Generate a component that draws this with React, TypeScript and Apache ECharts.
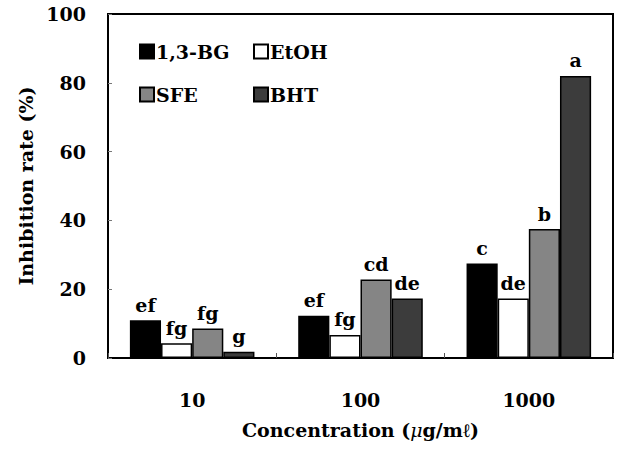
import React, { useEffect, useRef } from "react";
import * as echarts from "echarts";

const categories = ["10", "100", "1000"];
const seriesNames = ["1,3-BG", "EtOH", "SFE", "BHT"];
const bg = [11.0, 12.3, 27.5];
const etoh = [4.3, 6.7, 17.3];
const sfe = [8.6, 22.8, 37.5];
const bht = [1.8, 17.3, 82.0];
const bgLetters = ["ef", "ef", "c"];
const etohLetters = ["fg", "fg", "de"];
const sfeLetters = ["fg", "cd", "b"];
const bhtLetters = ["g", "de", "a"];
const yTicks = [0, 20, 40, 60, 80, 100];

const FONT = "DejaVu Serif";

export default function App() {
  const ref = useRef<HTMLDivElement>(null);
  useEffect(() => {
    if (!ref.current) return;
    const chart = echarts.init(ref.current, null, { renderer: "svg" });
    const txt = { fontFamily: FONT, fontWeight: "bold", fontSize: 19, color: "#000" };
    const mk = (name: string, data: number[], letters: string[], color: string) => ({
      name,
      type: "bar",
      data,
      barGap: "0%",
      barCategoryGap: "26%",
      itemStyle: { color, borderColor: "#000", borderWidth: 1.5 },
      label: {
        show: true,
        position: "top",
        distance: 6,
        formatter: (p: any) => letters[p.dataIndex],
        ...txt,
      },
    });
    const legendBase = {
      icon: "rect",
      itemWidth: 14,
      itemHeight: 14,
      itemGap: 4,
      textStyle: { ...txt, padding: [0, 0, 0, -3] },
      selectedMode: false,
    };
    chart.setOption({
      animation: false,
      backgroundColor: "#fff",
      textStyle: { fontFamily: FONT },
      grid: {
        left: 108,
        right: 5,
        top: 14,
        bottom: 101,
        show: true,
        borderColor: "#000",
        borderWidth: 2,
      },
      legend: [
        { ...legendBase, data: [seriesNames[0]], left: 134, top: 37 },
        { ...legendBase, data: [seriesNames[1]], left: 248, top: 37 },
        { ...legendBase, data: [seriesNames[2]], left: 134, top: 80 },
        { ...legendBase, data: [seriesNames[3]], left: 248, top: 80 },
      ],
      xAxis: {
        type: "category",
        data: categories,
        axisLine: { show: true, lineStyle: { color: "#000", width: 2 } },
        axisTick: { show: true, inside: true, length: 5, lineStyle: { color: "#555" } },
        axisLabel: { margin: 32, ...txt },
        name: "Concentration ({i|μ}g/mℓ)",
        nameLocation: "middle",
        nameGap: 62,
        nameTextStyle: {
          ...txt,
          rich: { i: { ...txt, fontStyle: "italic", fontWeight: "normal" } },
        },
      },
      yAxis: {
        type: "value",
        min: yTicks[0],
        max: yTicks[yTicks.length - 1],
        interval: 20,
        splitLine: { show: false },
        axisLine: { show: true, lineStyle: { color: "#000", width: 2 } },
        axisTick: { show: true, inside: true, length: 4, lineStyle: { color: "#777" } },
        axisLabel: { margin: 22, ...txt },
        name: "Inhibition rate (%)",
        nameLocation: "middle",
        nameGap: 72,
        nameTextStyle: { ...txt },
      },
      series: [
        mk(seriesNames[0], bg, bgLetters, "#000"),
        mk(seriesNames[1], etoh, etohLetters, "#fff"),
        mk(seriesNames[2], sfe, sfeLetters, "#858585"),
        mk(seriesNames[3], bht, bhtLetters, "#3c3c3c"),
      ],
    });
    return () => chart.dispose();
  }, []);
  return (
    <div
      ref={ref}
      style={{ position: "fixed", left: 0, top: 0, width: 618, height: 459 }}
    />
  );
}
